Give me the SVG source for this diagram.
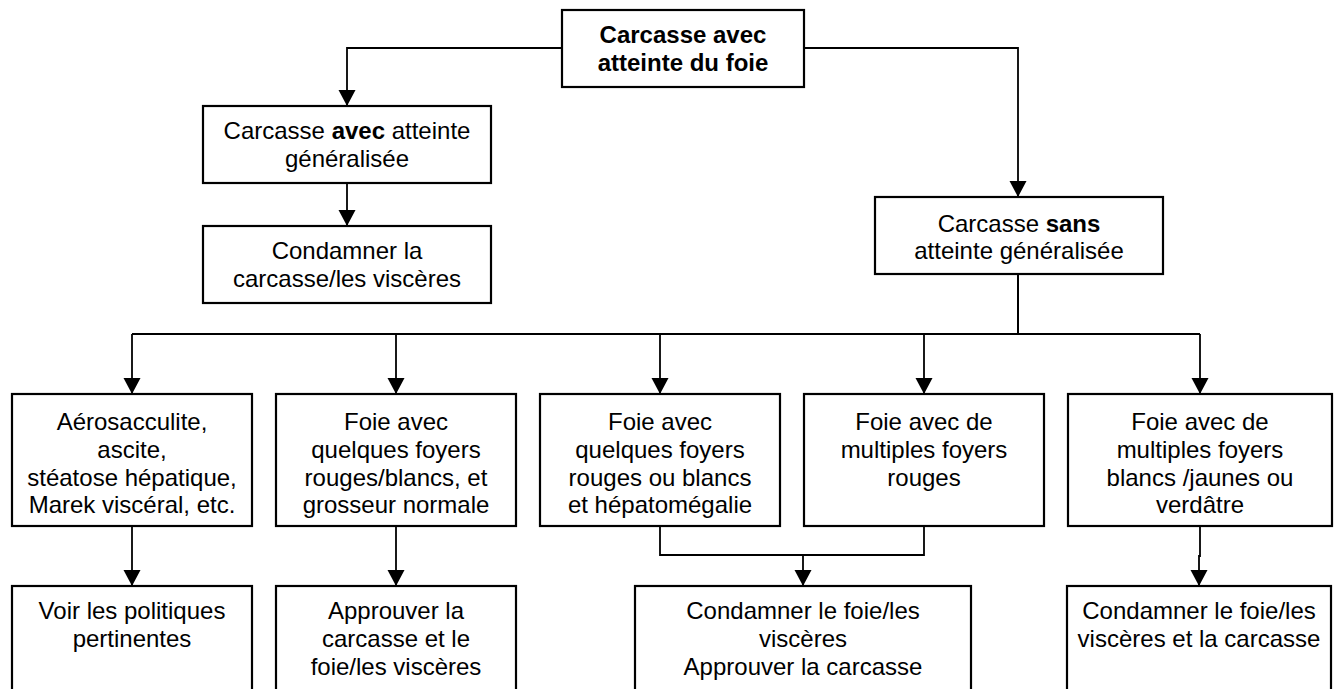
<svg xmlns="http://www.w3.org/2000/svg" width="1335" height="689" viewBox="0 0 1335 689">
  <style>
    .box { fill: #fff; stroke: #000; stroke-width: 2.2; }
    .wire { fill: none; stroke: #000; stroke-width: 1.8; }
    .lbl { font-family: "Liberation Sans", Arial, sans-serif; font-size: 24px; fill: #000; text-anchor: middle; }
    .b { font-weight: bold; }
  </style>
  <defs>
    <marker id="arrow" markerUnits="userSpaceOnUse" markerWidth="16" markerHeight="18" refX="16" refY="8.5" orient="auto">
      <path d="M0,0 L16,8.5 L0,17 Z" fill="#000"/>
    </marker>
  </defs>
  <rect width="1335" height="689" fill="#fff"/>

  <!-- connectors -->
  <g id="connectors">
    <path class="wire" d="M562,48 H347 V106" marker-end="url(#arrow)"/>
    <path class="wire" d="M804,48 H1018 V197" marker-end="url(#arrow)"/>
    <path class="wire" d="M347,183 V226" marker-end="url(#arrow)"/>
    <path class="wire" d="M1018,274 V334" style="stroke-width:2"/>
    <path class="wire" d="M132,334 H1018" style="stroke-width:2.2"/>
    <path class="wire" d="M1018,334 H1200"/>
    <path class="wire" d="M132,334 V394" marker-end="url(#arrow)"/>
    <path class="wire" d="M396,334 V394" marker-end="url(#arrow)"/>
    <path class="wire" d="M660,334 V394" marker-end="url(#arrow)"/>
    <path class="wire" d="M924,334 V394" marker-end="url(#arrow)"/>
    <path class="wire" d="M1200,334 V394" marker-end="url(#arrow)"/>
    <path class="wire" d="M132,526 V586" marker-end="url(#arrow)"/>
    <path class="wire" d="M396,526 V586" marker-end="url(#arrow)"/>
    <path class="wire" d="M660,526 V555 H924 V526"/>
    <path class="wire" d="M803,555 V586" marker-end="url(#arrow)"/>
    <path class="wire" d="M1200,526 V556 H1199 V586" marker-end="url(#arrow)"/>
  </g>

  <g id="root">
    <rect class="box" x="562" y="10" width="242" height="77"/>
    <text class="lbl b"><tspan x="683" y="43">Carcasse avec</tspan><tspan x="683" y="71">atteinte du foie</tspan></text>
  </g>

  <g id="with-general">
    <rect class="box" x="203" y="106" width="288" height="77"/>
    <text class="lbl"><tspan x="347" y="139">Carcasse <tspan class="b">avec</tspan> atteinte</tspan><tspan x="347" y="167">généralisée</tspan></text>
  </g>

  <g id="condemn-all">
    <rect class="box" x="203" y="226" width="288" height="77"/>
    <text class="lbl"><tspan x="347" y="259">Condamner la</tspan><tspan x="347" y="287">carcasse/les viscères</tspan></text>
  </g>

  <g id="without-general">
    <rect class="box" x="875" y="197" width="288" height="77"/>
    <text class="lbl"><tspan x="1019" y="232">Carcasse <tspan class="b">sans</tspan></tspan><tspan x="1019" y="259">atteinte généralisée</tspan></text>
  </g>

  <g id="case-other">
    <rect class="box" x="12" y="394" width="240" height="132"/>
    <text class="lbl"><tspan x="132" y="430">Aérosacculite,</tspan><tspan x="132" y="458">ascite,</tspan><tspan x="132" y="486">stéatose hépatique,</tspan><tspan x="132" y="513">Marek viscéral, etc.</tspan></text>
  </g>

  <g id="case-few-normal">
    <rect class="box" x="276" y="394" width="240" height="132"/>
    <text class="lbl"><tspan x="396" y="430">Foie avec</tspan><tspan x="396" y="458">quelques foyers</tspan><tspan x="396" y="486">rouges/blancs, et</tspan><tspan x="396" y="513">grosseur normale</tspan></text>
  </g>

  <g id="case-few-enlarged">
    <rect class="box" x="540" y="394" width="240" height="132"/>
    <text class="lbl"><tspan x="660" y="430">Foie avec</tspan><tspan x="660" y="458">quelques foyers</tspan><tspan x="660" y="486">rouges ou blancs</tspan><tspan x="660" y="513">et hépatomégalie</tspan></text>
  </g>

  <g id="case-many-red">
    <rect class="box" x="804" y="394" width="240" height="132"/>
    <text class="lbl"><tspan x="924" y="430">Foie avec de</tspan><tspan x="924" y="458">multiples foyers</tspan><tspan x="924" y="486">rouges</tspan></text>
  </g>

  <g id="case-many-white">
    <rect class="box" x="1068" y="394" width="264" height="132"/>
    <text class="lbl"><tspan x="1200" y="430">Foie avec de</tspan><tspan x="1200" y="458">multiples foyers</tspan><tspan x="1200" y="486">blancs /jaunes ou</tspan><tspan x="1200" y="513">verdâtre</tspan></text>
  </g>

  <g id="out-policies">
    <rect class="box" x="12" y="586" width="240" height="120"/>
    <text class="lbl"><tspan x="132" y="619">Voir les politiques</tspan><tspan x="132" y="647">pertinentes</tspan></text>
  </g>

  <g id="out-approve">
    <rect class="box" x="276" y="586" width="240" height="120"/>
    <text class="lbl"><tspan x="396" y="619">Approuver la</tspan><tspan x="396" y="647">carcasse et le</tspan><tspan x="396" y="675">foie/les viscères</tspan></text>
  </g>

  <g id="out-condemn-liver">
    <rect class="box" x="635" y="586" width="336" height="120"/>
    <text class="lbl"><tspan x="803" y="619">Condamner le foie/les</tspan><tspan x="803" y="647">viscères</tspan><tspan x="803" y="675">Approuver la carcasse</tspan></text>
  </g>

  <g id="out-condemn-both">
    <rect class="box" x="1067" y="586" width="264" height="120"/>
    <text class="lbl"><tspan x="1199" y="619">Condamner le foie/les</tspan><tspan x="1199" y="647">viscères et la carcasse</tspan></text>
  </g>
</svg>
